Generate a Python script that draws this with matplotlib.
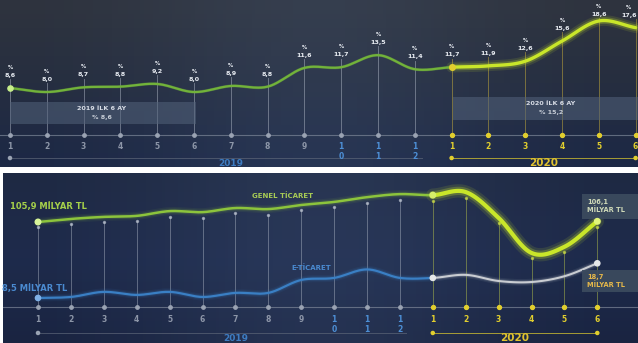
import numpy as np
import matplotlib
matplotlib.use('Agg')
import matplotlib.pyplot as plt
from matplotlib.colors import LinearSegmentedColormap
from matplotlib.patches import Rectangle

# months: 2019 1-12, 2020 1-6
month_labels = ['1', '2', '3', '4', '5', '6', '7', '8', '9', '1\n0', '1\n1', '1\n2',
                '1', '2', '3', '4', '5', '6']

# share of e-commerce in general trade (%)
share = [8.6, 8.0, 8.7, 8.8, 9.2, 8.0, 8.9, 8.8, 11.6, 11.7, 13.5, 11.4,
         11.7, 11.9, 12.6, 15.6, 18.6, 17.6]
share_labels = ['8,6', '8,0', '8,7', '8,8', '9,2', '8,0', '8,9', '8,8', '11,6', '11,7',
                '13,5', '11,4', '11,7', '11,9', '12,6', '15,6', '18,6', '17,6']

# general trade and e-commerce volume (billion TL)
general = [105.9, 106.8, 107.4, 107.7, 109.1, 108.8, 110.0, 109.7, 110.9, 111.8,
           113.2, 114.1, 113.8, 114.7, 107.1, 96.8, 98.6, 106.1]
ecom = [8.5, 8.8, 10.3, 9.4, 10.3, 8.8, 10.0, 10.0, 13.8, 14.4, 16.9, 14.4,
        14.4, 15.3, 13.5, 13.2, 14.9, 18.7]

W, H = 638, 343
BG_TOP = ['#2f343e', '#262e40', '#1c2846']
BG_BOT = ['#1f2943', '#1e2b4c', '#1a2441']
GREEN = '#72b33a'
LIME = '#c9e62a'
BLUE = '#3a7fc4'
YELLOW = '#e2cf2e'
GREY = '#8d96a8'


def smooth(y, n=24):
    """Catmull-Rom curve through evenly spaced points"""
    y = np.asarray(y, float)
    p = np.concatenate([[2 * y[0] - y[1]], y, [2 * y[-1] - y[-2]]])
    xs, ys = [], []
    t = np.linspace(0, 1, n, endpoint=False)
    for i in range(len(y) - 1):
        p0, p1, p2, p3 = p[i], p[i + 1], p[i + 2], p[i + 3]
        yy = 0.5 * (2 * p1 + (-p0 + p2) * t + (2 * p0 - 5 * p1 + 4 * p2 - p3) * t ** 2
                    + (-p0 + 3 * p1 - 3 * p2 + p3) * t ** 3)
        xs.append(i + t)
        ys.append(yy)
    xs.append([len(y) - 1])
    ys.append([y[-1]])
    return np.concatenate(xs), np.concatenate(ys)


def background(ax, colors):
    cmap = LinearSegmentedColormap.from_list('bg', colors)
    grad = np.linspace(0, 1, 256).reshape(-1, 1)
    x0, x1 = ax.get_xlim()
    y0, y1 = ax.get_ylim()
    ax.imshow(grad, cmap=cmap, extent=[x0, x1, y0, y1], aspect='auto',
              origin='upper', zorder=0)
    glow = np.exp(-((np.linspace(-1, 1, 200) / 0.6) ** 2)).reshape(1, -1)
    ax.imshow(glow, cmap=LinearSegmentedColormap.from_list(
        'g', [(0.35, 0.45, 0.6, 0), (0.35, 0.45, 0.6, 0.18)]),
        extent=[x0, x1, y0, y1], aspect='auto', zorder=0.5)


def glow_line(ax, xs, ys, color, lw, z=5, strength=1.0):
    ax.plot(xs, ys, color=color, lw=lw * 3.2, alpha=0.12 * strength,
            solid_capstyle='round', zorder=z)
    ax.plot(xs, ys, color=color, lw=lw * 2.0, alpha=0.25 * strength,
            solid_capstyle='round', zorder=z)
    ax.plot(xs, ys, color=color, lw=lw, solid_capstyle='round', zorder=z + 0.1)


def axis_rows(ax, y_line, y_num, y_line2, y_year, x2019, x2020, last):
    n = len(month_labels)
    idx = np.arange(n)
    ax.plot([-5, n + 5], [y_line, y_line], color='#7d8798', lw=0.8, alpha=0.7, zorder=2)
    ax.scatter(idx[:12], [y_line] * 12, s=6, color='#9aa3b3', zorder=3)
    ax.scatter(idx[12:], [y_line] * 6, s=8, color=YELLOW, zorder=3)
    for i, lab in enumerate(month_labels):
        if i < 9:
            c = GREY
        elif i < 12:
            c = '#4d8fd6'
        else:
            c = YELLOW
        ax.text(i, y_num, lab, ha='center', va='top', fontsize=5.5, color=c,
                fontweight='bold', linespacing=1.1, zorder=4)
    ax.plot([0, 11.2], [y_line2, y_line2], color='#5d6678', lw=0.7, alpha=0.7, zorder=2)
    ax.plot([12, last], [y_line2, y_line2], color=YELLOW, lw=0.7, alpha=0.7, zorder=2)
    ax.scatter([0, 12, last], [y_line2] * 3, s=5, color=['#9aa3b3', YELLOW, YELLOW], zorder=3)
    ax.text(x2019, y_year, '2019', ha='center', va='center', fontsize=6.5,
            color='#3d7cc2', fontweight='bold', zorder=4)
    ax.text(x2020, y_year, '2020', ha='center', va='center', fontsize=7.5,
            color='#e0c22e', fontweight='bold', zorder=4)


fig = plt.figure(figsize=(W / 100, H / 100), dpi=100, facecolor='white')

# ---------------- top panel: share (%) ----------------
ax = fig.add_axes([0, (H - 167) / H, 1, 167 / H])
ax.set_xlim(-10 / 36.8, 628 / 36.8)
ax.set_ylim(-3.19, 21.73)
ax.axis('off')
background(ax, BG_TOP)

xs, ys = smooth(share)
m = xs <= 12
ax.plot(xs[m], ys[m], color=GREEN, lw=2.2, alpha=0.35, zorder=5)
ax.plot(xs[m], ys[m], color=GREEN, lw=1.6, zorder=5.1)
glow_line(ax, xs[xs >= 12], ys[xs >= 12], LIME, 2.4)
ax.scatter([0], [share[0]], s=14, color='#c8f08a', zorder=6)
ax.scatter([12], [share[12]], s=16, color=YELLOW, zorder=6)

for i, (v, lab) in enumerate(zip(share, share_labels)):
    c = '#d6b93a' if i >= 12 else '#b7bfcc'
    lab_y = min(v + 1.5, 19.2)
    xi = min(i, 16.82)
    ax.plot([i, i], [1.59, lab_y - 0.2], color=c, lw=0.6, alpha=0.55, zorder=2)
    ax.text(xi, lab_y, lab, ha='center', va='bottom', fontsize=4.6, color='#e8ecf2',
            fontweight='bold', zorder=7)
    ax.text(xi, lab_y + 1.2, '%', ha='center', va='bottom', fontsize=3.8, color='#e8ecf2',
            fontweight='bold', zorder=7)

ax.add_patch(Rectangle((0, 3.23), 5.05, 3.28, facecolor='#52627a', alpha=0.55,
                       edgecolor='none', zorder=3))
ax.text(2.5, 5.55, '2019 İLK 6 AY', ha='center', va='center', fontsize=4.6,
        color='#d8dde6', fontweight='bold', zorder=4)
ax.text(2.5, 4.25, '% 8,6', ha='center', va='center', fontsize=4.6,
        color='#c6ccd6', fontweight='bold', zorder=4)
ax.add_patch(Rectangle((12.05, 3.82), 5.2, 3.44, facecolor='#52627a', alpha=0.55,
                       edgecolor='none', zorder=3))
ax.text(14.7, 6.3, '2020 İLK 6 AY', ha='center', va='center', fontsize=4.6,
        color='#d8dde6', fontweight='bold', zorder=4)
ax.text(14.7, 4.9, '% 15,2', ha='center', va='center', fontsize=4.6,
        color='#c6ccd6', fontweight='bold', zorder=4)

axis_rows(ax, 1.59, 0.5, -1.85, -2.6, 6.0, 14.5, 17)

# ---------------- bottom panel: volumes ----------------
axg = fig.add_axes([3 / W, 0, 1 - 3 / W, 170 / H])
axg.set_xlim(-35 / 32.9, 600 / 32.9)
axg.set_ylim(70.31, 120.31)
axg.axis('off')
background(axg, BG_BOT)

axb = fig.add_axes([3 / W, 0, 1 - 3 / W, 170 / H])
axb.set_xlim(-35 / 32.9, 600 / 32.9)
axb.set_ylim(-4.74, 45.26)
axb.axis('off')
axb.patch.set_alpha(0)

# vertical guides from the general trade line to the axis
for i, v in enumerate(general):
    c = '#c9d84a' if i >= 12 else '#b7bfcc'
    axg.plot([i, i], [80.9, v - 1.6], color=c, lw=0.6, alpha=0.5, zorder=2)
    axg.scatter([i], [v - 1.6], s=2, color=c, alpha=0.7, zorder=2)

xs, ys = smooth(general)
m = xs <= 12
glow_line(axg, xs[m], ys[m], '#8cc43c', 1.8, strength=0.6)
glow_line(axg, xs[xs >= 12], ys[xs >= 12], LIME, 3.0)
axg.scatter([0, 12, 17], [general[0], general[12], general[17]], s=16,
            color=['#d8f59a', '#d6ee6a', '#e2f57a'], zorder=7)

xs, ys = smooth(ecom)
glow_line(axb, xs[m], ys[m], BLUE, 1.6, strength=0.7)
glow_line(axb, xs[xs >= 12], ys[xs >= 12], '#c9ccd2', 1.5, strength=0.7)
axb.scatter([0, 12, 17], [ecom[0], ecom[12], ecom[17]], s=14,
            color=['#7fb0e6', '#e6e8ea', '#e6e8ea'], zorder=7)

axg.text(-0.85, 110.6, '105,9 MİLYAR TL', ha='left', va='center', fontsize=6,
         color='#a6d14a', fontweight='bold', zorder=8)
axg.text(6.5, 113.6, 'GENEL TİCARET', ha='left', va='center', fontsize=5,
         color='#a8cc55', fontweight='bold', zorder=8)
axb.text(-1.1, 11.2, '8,5 MİLYAR TL', ha='left', va='center', fontsize=6,
         color='#4a8ad0', fontweight='bold', zorder=8)
axb.text(7.7, 17.6, 'E-TİCARET', ha='left', va='center', fontsize=5,
         color='#4a8ad0', fontweight='bold', zorder=8)

axg.add_patch(Rectangle((16.55, 106.9), 1.75, 7.3, facecolor='#3d4c5f', alpha=0.9,
                        edgecolor='none', zorder=6))
axg.text(16.7, 110.6, '106,1\nMİLYAR TL', ha='left', va='center', fontsize=4.8,
         color='#cfd9b8', fontweight='bold', linespacing=1.3, zorder=8)
axb.add_patch(Rectangle((16.55, 10.3), 1.75, 6.5, facecolor='#3d4c5f', alpha=0.9,
                        edgecolor='none', zorder=6))
axb.text(16.7, 13.5, '18,7\nMİLYAR TL', ha='left', va='center', fontsize=4.8,
         color='#e6b84a', fontweight='bold', linespacing=1.3, zorder=8)

axis_rows(axb, 5.85, 3.4, -1.79, -3.3, 6.0, 14.5, 17)

fig.savefig('out.png', dpi=100, facecolor=fig.get_facecolor())
